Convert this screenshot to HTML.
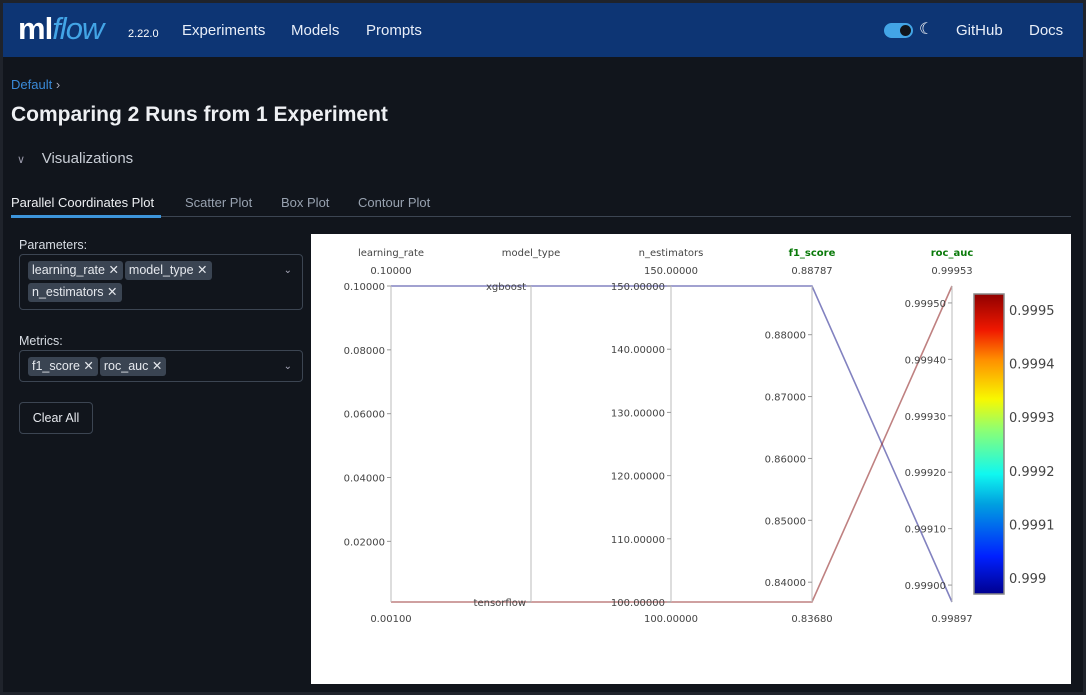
<!DOCTYPE html>
<html><head><meta charset="utf-8">
<style>
*{box-sizing:border-box;margin:0;padding:0}
body{width:1086px;height:695px;background:#1f232b;font-family:"Liberation Sans",sans-serif;overflow:hidden;position:relative}
#page{position:absolute;left:3px;top:3px;width:1080px;height:689px;background:#11151c}
#hdr{position:absolute;left:0;top:0;width:1080px;height:54px;background:#0d3574;color:#fff}
.nav{position:absolute;top:19px;font-size:15px;color:#e8eef8}
.tag{display:inline-block;background:#3a4452;color:#e6e9ee;font-size:12.5px;padding:2px 4px;border-radius:3px;margin:0 2px 3px 0;line-height:15px}
.box{position:absolute;left:16px;width:284px;border:1px solid #3c4552;border-radius:4px;padding:6px 8px 3px 8px}
.lbl{position:absolute;left:16px;font-size:12.5px;color:#d8dde4}
.chev{position:absolute;right:10px;top:10px;color:#aab;font-size:10px}
.tab{position:absolute;top:192px;font-size:13px;color:#98a2b0}
</style></head><body>
<div id="page">
<div id="hdr">
 <div style="position:absolute;left:15px;top:8px;font-size:31px;font-weight:bold;letter-spacing:-1px">ml<span style="color:#43a5e6;font-style:italic;font-weight:normal">flow</span></div>
 <div style="position:absolute;left:125px;top:25px;font-size:11px">2.22.0</div>
 <div class="nav" style="left:179px">Experiments</div>
 <div class="nav" style="left:288px">Models</div>
 <div class="nav" style="left:363px">Prompts</div>
 <div style="position:absolute;left:881px;top:20px;width:29px;height:15px;border-radius:8px;background:#43a5e6"><div style="position:absolute;right:2px;top:2px;width:11px;height:11px;border-radius:50%;background:#11151c"></div></div>
 <div style="position:absolute;left:916px;top:16px;font-size:16px">☾</div>
 <div class="nav" style="left:953px">GitHub</div>
 <div class="nav" style="left:1026px">Docs</div>
</div>
<div style="position:absolute;left:8px;top:74px;font-size:13px;color:#3a8ad8">Default <span style="color:#aab">›</span></div>
<div style="position:absolute;left:8px;top:100px;font-size:21px;font-weight:bold;color:#eef0f3">Comparing 2 Runs from 1 Experiment</div>
<div style="position:absolute;left:14px;top:147px;font-size:15px;color:#c8cdd5"><span style="font-size:11px;color:#99a">∨</span>&nbsp;&nbsp;&nbsp; Visualizations</div>
<div class="tab" style="left:8px;color:#eef0f3">Parallel Coordinates Plot</div>
<div class="tab" style="left:182px">Scatter Plot</div>
<div class="tab" style="left:278px">Box Plot</div>
<div class="tab" style="left:355px">Contour Plot</div>
<div style="position:absolute;left:8px;top:213px;width:1060px;height:1px;background:#3c4552"></div>
<div style="position:absolute;left:8px;top:212px;width:150px;height:3px;background:#3d95db"></div>

<div class="lbl" style="top:235px">Parameters:</div>
<div class="box" style="top:251px;height:56px">
 <span class="tag">learning_rate ✕</span><span class="tag">model_type ✕</span><br><span class="tag">n_estimators ✕</span><span class="chev">⌄</span></div>
<div class="lbl" style="top:331px">Metrics:</div>
<div class="box" style="top:347px;height:32px">
 <span class="tag">f1_score ✕</span><span class="tag">roc_auc ✕</span><span class="chev">⌄</span></div>
<div style="position:absolute;left:16px;top:399px;width:74px;height:32px;border:1px solid #3c4552;border-radius:4px;color:#e6e9ee;font-size:12.5px;text-align:center;line-height:30px">Clear All</div>
</div>

<svg id="chart" style="position:absolute;left:311px;top:234px" width="760" height="450" font-family="DejaVu Sans, sans-serif">
<rect width="760" height="450" fill="#fff"/>
<defs><linearGradient id="jet" x1="0" y1="1" x2="0" y2="0">
<stop offset="0" stop-color="#00008f"/><stop offset="0.125" stop-color="#0020ff"/><stop offset="0.3" stop-color="#00a0e0"/><stop offset="0.4" stop-color="#10f8f0"/><stop offset="0.55" stop-color="#90ff70"/><stop offset="0.65" stop-color="#f8f800"/><stop offset="0.78" stop-color="#ff9000"/><stop offset="0.88" stop-color="#f01800"/><stop offset="1" stop-color="#900000"/></linearGradient></defs>
<g id="g"></g>
</svg>
<script>
const dims=["learning_rate","model_type","n_estimators","f1_score","roc_auc"];
const lrVals=[0.1,0.001];
const modelVals=["xgboost","tensorflow"];
const nestVals=[150,100];
const f1Vals=[0.88787,0.8368];
const rocVals=[0.99897,0.99953];
const lrTicks=[0.02,0.04,0.06,0.08,0.1];
const nestTicks=[100,110,120,130,140,150];
const f1Ticks=[0.84,0.85,0.86,0.87,0.88];
const rocTicks=[0.999,0.9991,0.9992,0.9993,0.9994,0.9995];
const cbTicks=[0.999,0.9991,0.9992,0.9993,0.9994,0.9995];

const NS="http://www.w3.org/2000/svg";
const gEl=document.getElementById('g');
const axX=[80,220,360,501,641], yTop=52, yBot=368;
function mk(t,a,p){const e=document.createElementNS(NS,t);for(const k in a)e.setAttribute(k,a[k]);(p||gEl).appendChild(e);return e;}
function ext(a){return [Math.min(...a),Math.max(...a)];}
function scale(v,lo,hi){return yBot-(v-lo)/(hi-lo)*(yBot-yTop);}
const numCols=[lrVals,null,nestVals,f1Vals,rocVals];
const tickCols=[lrTicks,null,nestTicks,f1Ticks,rocTicks];
function yOf(i,r){
  if(i===1){return scale(modelVals.length-1-r,0,modelVals.length-1);}
  const [lo,hi]=ext(numCols[i]);return scale(numCols[i][r],lo,hi);
}
const rocR=ext(rocVals);
function colr(v){const t=(v-rocR[0])/(rocR[1]-rocR[0]);return t>0.5?'#8b1a1a':'#1c1c8c';}
for(let r=0;r<lrVals.length;r++){
  const pts=axX.map((x,i)=>x+','+yOf(i,r)).join(' ');
  const l=mk('polyline',{points:pts,fill:'none',stroke:colr(rocVals[r]),'stroke-width':1.6,'stroke-opacity':0.55});
  
  
}
dims.forEach((d,i)=>{
  const x=axX[i];
  mk('line',{x1:x,y1:yTop,x2:x,y2:yBot,stroke:'#bbb','stroke-width':1});
  const tt=mk('text',{x:x,y:22,'text-anchor':'middle','font-size':10,fill:i>2?'#0a7a0a':'#444','font-weight':i>2?'bold':'normal'});tt.textContent=d;
  
  
  if(i===1){
    modelVals.forEach((m,r)=>{const y=yOf(1,r);mk('line',{x1:x-4,y1:y,x2:x,y2:y,stroke:'#999'});
      const t=mk('text',{x:x-5,y:y+4,'text-anchor':'end','font-size':10,fill:'#444'});t.textContent=m;});
    return;
  }
  const [lo,hi]=ext(numCols[i]);
  const a=mk('text',{x:x,y:40,'text-anchor':'middle','font-size':10,fill:'#444'});a.textContent=hi.toFixed(5);
  const b=mk('text',{x:x,y:388,'text-anchor':'middle','font-size':10,fill:'#444'});b.textContent=lo.toFixed(5);
  tickCols[i].forEach(v=>{if(v<lo-1e-12||v>hi+1e-12)return;const y=scale(v,lo,hi);
    mk('line',{x1:x-4,y1:y,x2:x,y2:y,stroke:'#999'});
    const t=mk('text',{x:x-6,y:y+4,'text-anchor':'end','font-size':10,fill:'#444'});t.textContent=v.toFixed(5);});
});
const cbT=60,cbB=360,cbX=663;
const cb=mk('rect',{x:cbX,y:cbT,width:30,height:cbB-cbT,fill:'url(#jet)',stroke:'#888','stroke-width':1.5});


cbTicks.forEach(v=>{const y=cbB-(v-rocR[0])/(rocR[1]-rocR[0])*(cbB-cbT);
  const t=mk('text',{x:cbX+35,y:y+5,'font-size':13,fill:'#444'});t.textContent=String(v);});
</script>
</body></html>
